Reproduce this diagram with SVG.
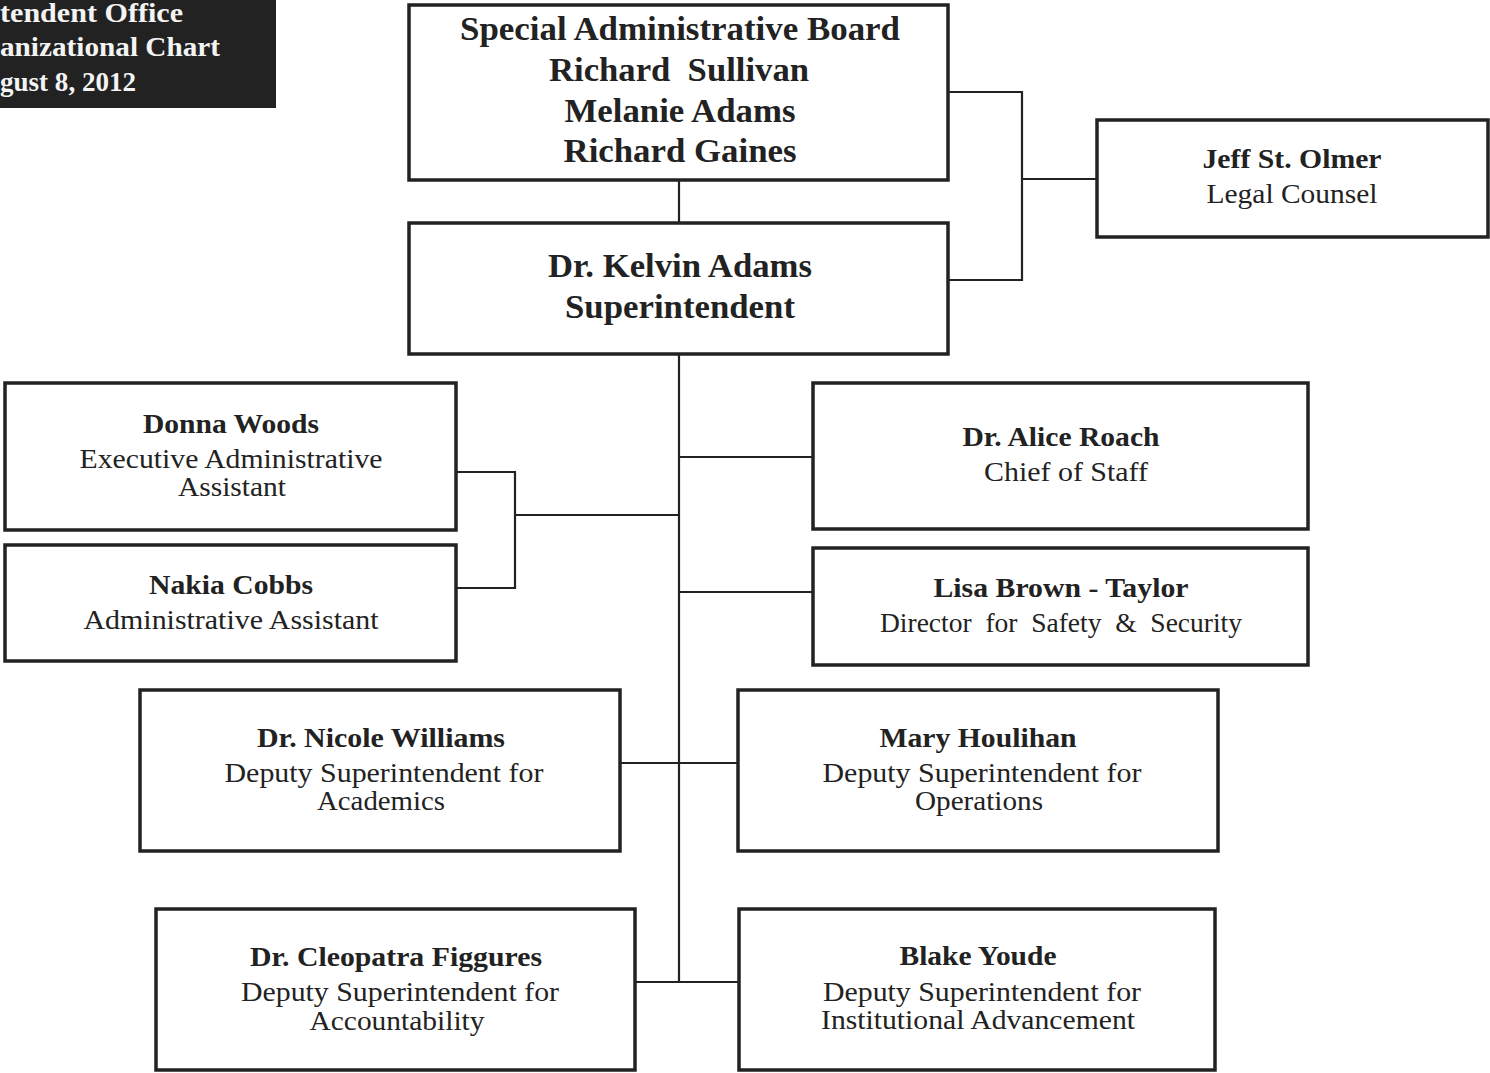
<svg xmlns="http://www.w3.org/2000/svg" width="1490" height="1073" viewBox="0 0 1490 1073">
<style>
.box{fill:#fff;stroke:#222;stroke-width:3.5}
.ln{fill:none;stroke:#222;stroke-width:2.2}
text{font-family:"Liberation Serif","Times New Roman",serif;fill:#222;text-anchor:middle}
.big{font-size:33px;font-weight:bold}
.b{font-size:27px;font-weight:bold}
.r{font-size:27px}
.t{font-size:27px;font-weight:bold;fill:#f4f4f4;text-anchor:start}
</style>
<rect x="0" y="0" width="1490" height="1073" fill="#fff"/>
<g id="title">
<rect x="0" y="0" width="276" height="108" fill="#222"/>
<text class="t" x="0" y="22" textLength="183" lengthAdjust="spacingAndGlyphs">tendent Office</text>
<text class="t" x="0" y="56" textLength="220" lengthAdjust="spacingAndGlyphs">anizational Chart</text>
<text class="t" x="0" y="91" textLength="136" lengthAdjust="spacingAndGlyphs">gust 8, 2012</text>
</g>
<g id="connectors">
<path class="ln" d="M679,180V223"/>
<path class="ln" d="M948,92H1022V280H948M1022,179H1097"/>
<path class="ln" d="M679,354V982"/>
<path class="ln" d="M456,472H515V588H456M515,515H679"/>
<path class="ln" d="M679,457H813M679,592H813"/>
<path class="ln" d="M620,763H738M635,982H739"/>
</g>
<g id="board">
<rect class="box" x="409" y="5" width="539" height="175"/>
<text class="big" x="680" y="40" textLength="440" lengthAdjust="spacingAndGlyphs">Special Administrative Board</text>
<text class="big" x="679" y="81" textLength="260" lengthAdjust="spacingAndGlyphs" xml:space="preserve">Richard  Sullivan</text>
<text class="big" x="680" y="122" textLength="231" lengthAdjust="spacingAndGlyphs">Melanie Adams</text>
<text class="big" x="680" y="162" textLength="233" lengthAdjust="spacingAndGlyphs">Richard Gaines</text>
</g>
<g id="superintendent">
<rect class="box" x="409" y="223" width="539" height="131"/>
<text class="big" x="680" y="277" textLength="264" lengthAdjust="spacingAndGlyphs">Dr. Kelvin Adams</text>
<text class="big" x="680" y="318" textLength="230" lengthAdjust="spacingAndGlyphs">Superintendent</text>
</g>
<g id="legal">
<rect class="box" x="1097" y="120" width="391" height="117"/>
<text class="b" x="1292" y="168" textLength="179" lengthAdjust="spacingAndGlyphs">Jeff St. Olmer</text>
<text class="r" x="1292" y="203" textLength="171" lengthAdjust="spacingAndGlyphs">Legal Counsel</text>
</g>
<g id="woods">
<rect class="box" x="5" y="383" width="451" height="147"/>
<text class="b" x="231" y="433" textLength="176" lengthAdjust="spacingAndGlyphs">Donna Woods</text>
<text class="r" x="231" y="468" textLength="303" lengthAdjust="spacingAndGlyphs">Executive Administrative</text>
<text class="r" x="232" y="496" textLength="108" lengthAdjust="spacingAndGlyphs">Assistant</text>
</g>
<g id="cobbs">
<rect class="box" x="5" y="545" width="451" height="116"/>
<text class="b" x="231" y="594" textLength="164" lengthAdjust="spacingAndGlyphs">Nakia Cobbs</text>
<text class="r" x="231" y="629" textLength="295" lengthAdjust="spacingAndGlyphs">Administrative Assistant</text>
</g>
<g id="roach">
<rect class="box" x="813" y="383" width="495" height="146"/>
<text class="b" x="1061" y="446" textLength="197" lengthAdjust="spacingAndGlyphs">Dr. Alice Roach</text>
<text class="r" x="1066" y="481" textLength="164" lengthAdjust="spacingAndGlyphs">Chief of Staff</text>
</g>
<g id="brown">
<rect class="box" x="813" y="548" width="495" height="117"/>
<text class="b" x="1061" y="597" textLength="255" lengthAdjust="spacingAndGlyphs">Lisa Brown - Taylor</text>
<text class="r" x="1061" y="632" textLength="362" lengthAdjust="spacingAndGlyphs" xml:space="preserve">Director  for  Safety  &amp;  Security</text>
</g>
<g id="williams">
<rect class="box" x="140" y="690" width="480" height="161"/>
<text class="b" x="381" y="747" textLength="248" lengthAdjust="spacingAndGlyphs">Dr. Nicole Williams</text>
<text class="r" x="384" y="782" textLength="319" lengthAdjust="spacingAndGlyphs">Deputy Superintendent for</text>
<text class="r" x="381" y="810" textLength="128" lengthAdjust="spacingAndGlyphs">Academics</text>
</g>
<g id="houlihan">
<rect class="box" x="738" y="690" width="480" height="161"/>
<text class="b" x="978" y="747" textLength="197" lengthAdjust="spacingAndGlyphs">Mary Houlihan</text>
<text class="r" x="982" y="782" textLength="319" lengthAdjust="spacingAndGlyphs">Deputy Superintendent for</text>
<text class="r" x="979" y="810" textLength="128" lengthAdjust="spacingAndGlyphs">Operations</text>
</g>
<g id="figgures">
<rect class="box" x="156" y="909" width="479" height="161"/>
<text class="b" x="396" y="966" textLength="292" lengthAdjust="spacingAndGlyphs">Dr. Cleopatra Figgures</text>
<text class="r" x="400" y="1001" textLength="318" lengthAdjust="spacingAndGlyphs">Deputy Superintendent for</text>
<text class="r" x="397" y="1030" textLength="175" lengthAdjust="spacingAndGlyphs">Accountability</text>
</g>
<g id="youde">
<rect class="box" x="739" y="909" width="476" height="161"/>
<text class="b" x="978" y="965" textLength="157" lengthAdjust="spacingAndGlyphs">Blake Youde</text>
<text class="r" x="982" y="1001" textLength="318" lengthAdjust="spacingAndGlyphs">Deputy Superintendent for</text>
<text class="r" x="978" y="1029" textLength="314" lengthAdjust="spacingAndGlyphs">Institutional Advancement</text>
</g>
</svg>
